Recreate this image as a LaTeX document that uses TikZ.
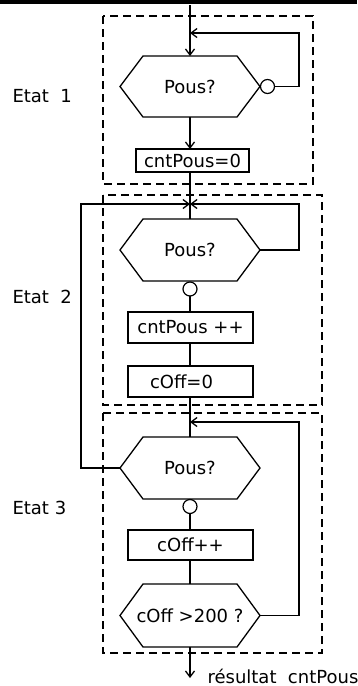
\documentclass[tikz,border=0pt]{standalone}
\usepackage{fontspec}
\setmainfont{DejaVu Sans}
\usetikzlibrary{arrows.meta,positioning}

\tikzset{
  etape/.style={draw, line width=1.6pt, rectangle, inner sep=0pt, outer sep=0pt},
  test/.style={rectangle, inner sep=0pt, outer sep=0pt, minimum width=140pt},
  bulle/.style={draw, line width=1.2pt, circle, minimum size=14pt, inner sep=0pt, outer sep=0pt},
  trait/.style={line width=1.3pt},
  fleche/.style={line width=1.3pt, -{Straight Barb[length=6pt,width=9pt]}},
  etat/.style={dash pattern=on 8pt off 5pt, line width=1.6pt},
}
% contour hexagonal d'un test
\newcommand{\hexa}[2][23pt]{\draw[trait] (#2.west) -- ([xshift=#1]#2.north west) -- ([xshift=-#1]#2.north east) -- (#2.east) -- ([xshift=-#1]#2.south east) -- ([xshift=#1]#2.south west) -- cycle;}

\begin{document}
\begin{tikzpicture}[x=1pt,y=-1pt,font=\fontsize{18pt}{21pt}\selectfont]
\useasboundingbox (0,0) rectangle (357,686);
\fill (0,0) rectangle (357,3.5);

% cadres des etats
\draw[etat] (103,16) rectangle (313,184);
\draw[etat] (103,195) rectangle (322,405);
\draw[etat] (103,413) rectangle (322,653);
\node[anchor=west] (e1) at (9,96) {Etat\ \ 1};
\node[anchor=west] (e2) at (9,297) {Etat\ \ 2};
\node[anchor=west] (e3) at (9,508) {Etat 3};

% etat 1
\node[test, minimum height=61pt] (q1) at (190,86.5) {Pous?};
\hexa{q1}
\node[bulle] (o1) at (267.5,86.5) {};
\node[etape, minimum width=113pt, minimum height=23pt] (r1) at (192.5,160.5) {cntPous=0};

% etat 2
\node[test, minimum height=62pt] (q2) at (190,250) {Pous?};
\hexa{q2}
\node[bulle] (o2) at (190,289) {};
\node[etape, minimum width=125pt, minimum height=31pt] (r2) at (190.5,327.5) {cntPous ++};
\node[etape, minimum width=125pt, minimum height=31pt, inner xsep=22pt, text width=81pt, align=left] (r3) at (190.5,381.5) {cOff=0};

% etat 3
\node[test, minimum height=62pt] (q3) at (190,468) {Pous?};
\hexa{q3}
\node[bulle] (o3) at (190,506.5) {};
\node[etape, minimum width=125pt, minimum height=30pt] (r4) at (190.5,545) {cOff++};
\node[test, minimum height=63pt] (q4) at (190,615.5) {cOff >200 ?};
\hexa{q4}

\coordinate (in) at (190,5);
\coordinate (j1) at (190,33);
\coordinate (j2) at (190,204);
\coordinate (j3) at (190,422);
\coordinate (dr) at (299,0);
\coordinate (ga) at (81,0);
\coordinate (out) at (190,678);

\draw[fleche] (in) -- (q1.north);
\draw[fleche] (o1.east) -| (dr |- j1) -- (j1);
\draw[fleche] (q1.south) -- (q1.south |- r1.north);
\draw[trait] (q1.south |- r1.south) -- (q2.north);
\draw[fleche] (q2.east) -| (dr |- j2) -- (j2);
\draw[fleche] (q3.west) -| (ga |- j2) -- (j2);
\draw[trait] (o2.south) -- (o2.south |- r2.north);
\draw[trait] (o2.south |- r2.south) -- (o2.south |- r3.north);
\draw[trait] (o2.south |- r3.south) -- (q3.north);
\draw[fleche] (q4.east) -| (dr |- j3) -- (j3);
\draw[trait] (o3.south) -- (o3.south |- r4.north);
\draw[trait] (o3.south |- r4.south) -- (q4.north);
\draw[fleche] (q4.south) -- (out);
\node[anchor=base west] (res) at (204,683) {résultat\ \ cntPous};
\end{tikzpicture}
\end{document}
